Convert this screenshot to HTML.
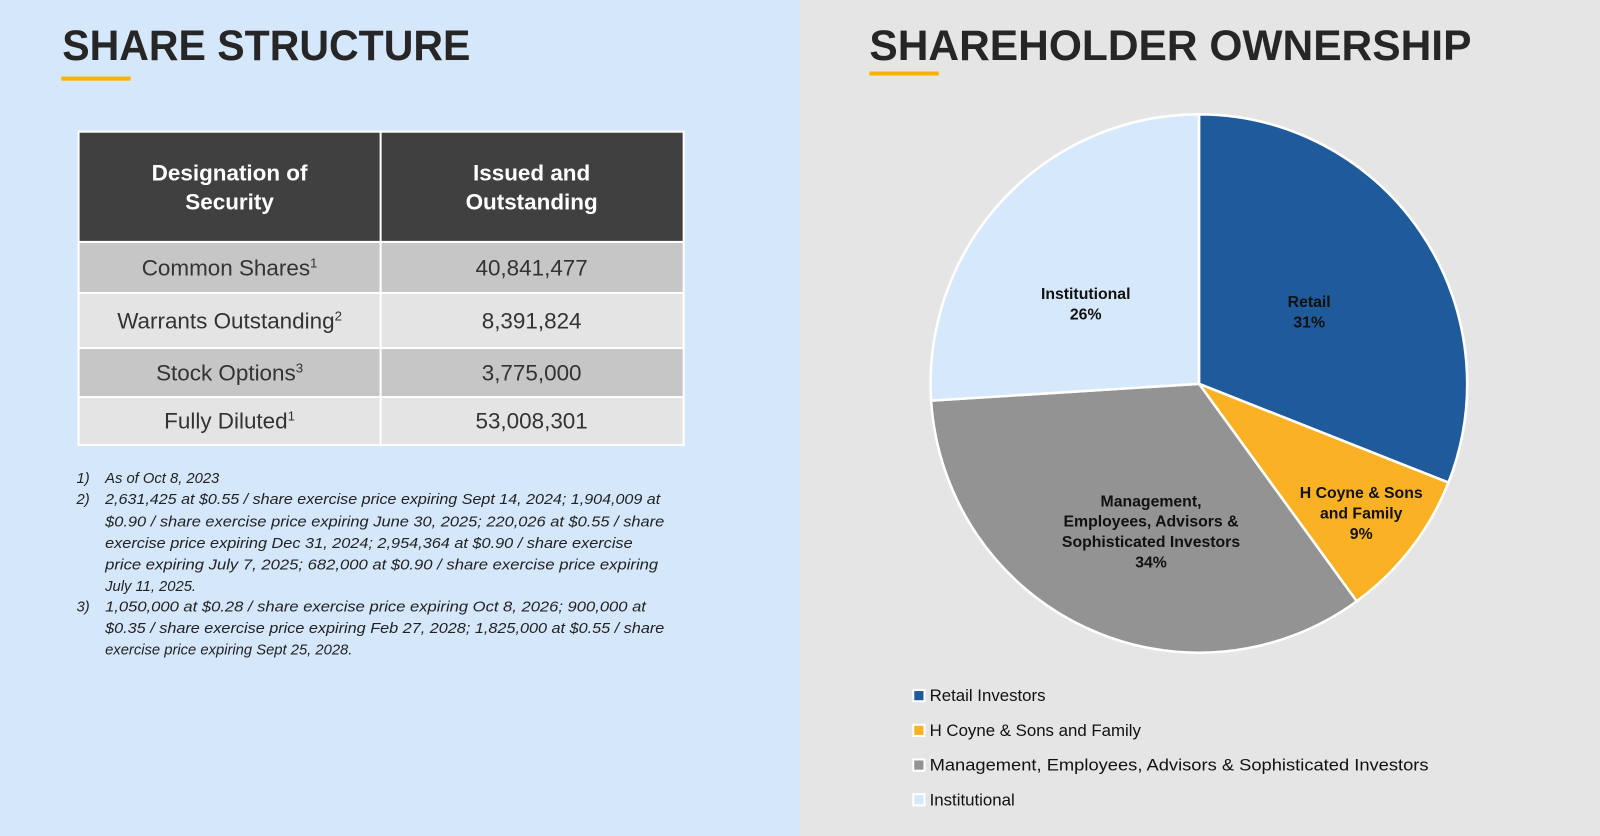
<!DOCTYPE html>
<html><head><meta charset="utf-8"><style>html,body{margin:0;padding:0;width:1600px;height:836px;overflow:hidden}svg{display:block}</style></head>
<body>
<svg width="1600" height="836" viewBox="0 0 1568 819" preserveAspectRatio="none" xmlns="http://www.w3.org/2000/svg" font-family="Liberation Sans, sans-serif">
<rect x="0" y="0" width="784" height="819" fill="#d5e7fb"/>
<rect x="784" y="0" width="784" height="819" fill="#e6e5e5"/>
<text x="61" y="59" font-size="42" font-weight="bold" fill="#262626" textLength="400" lengthAdjust="spacingAndGlyphs">SHARE STRUCTURE</text>
<rect x="60" y="75" width="68" height="4" fill="#f5b400"/>
<text x="852" y="59" font-size="42" font-weight="bold" fill="#262626" textLength="590" lengthAdjust="spacingAndGlyphs">SHAREHOLDER OWNERSHIP</text>
<rect x="852" y="70" width="68" height="4" fill="#f5b400"/>
<!-- table -->
<rect x="76" y="128" width="595" height="309" fill="#ffffff"/>
<rect x="78" y="130" width="294" height="106" fill="#404040"/>
<rect x="374" y="130" width="295" height="106" fill="#404040"/>
<rect x="78" y="238" width="294" height="48" fill="#c6c6c6"/>
<rect x="374" y="238" width="295" height="48" fill="#c6c6c6"/>
<rect x="78" y="288" width="294" height="52" fill="#e4e4e4"/>
<rect x="374" y="288" width="295" height="52" fill="#e4e4e4"/>
<rect x="78" y="342" width="294" height="46" fill="#c6c6c6"/>
<rect x="374" y="342" width="295" height="46" fill="#c6c6c6"/>
<rect x="78" y="390" width="294" height="45" fill="#e4e4e4"/>
<rect x="374" y="390" width="295" height="45" fill="#e4e4e4"/>
<g font-size="22" font-weight="bold" fill="#fff" text-anchor="middle">
<text x="225" y="177">Designation of</text><text x="225" y="205">Security</text>
<text x="521" y="177">Issued and</text><text x="521" y="205">Outstanding</text>
</g>
<g font-size="22" fill="#333" text-anchor="middle">
<text x="225" y="270">Common Shares<tspan font-size="13" dy="-8">1</tspan></text>
<text x="521" y="270">40,841,477</text>
<text x="225" y="322">Warrants Outstanding<tspan font-size="13" dy="-8">2</tspan></text>
<text x="521" y="322">8,391,824</text>
<text x="225" y="373">Stock Options<tspan font-size="13" dy="-8">3</tspan></text>
<text x="521" y="373">3,775,000</text>
<text x="225" y="420">Fully Diluted<tspan font-size="13" dy="-8">1</tspan></text>
<text x="521" y="420">53,008,301</text>
</g>
<g font-size="14.5" font-style="italic" fill="#222">
<text x="75" y="473">1)</text><text x="103" y="473">As of Oct 8, 2023</text>
<text x="75" y="494">2)</text><text x="103" y="494" textLength="544" lengthAdjust="spacingAndGlyphs">2,631,425 at $0.55 / share exercise price expiring Sept 14, 2024; 1,904,009 at</text>
<text x="103" y="516" textLength="548" lengthAdjust="spacingAndGlyphs">$0.90 / share exercise price expiring June 30, 2025; 220,026 at $0.55 / share</text>
<text x="103" y="537" textLength="517" lengthAdjust="spacingAndGlyphs">exercise price expiring Dec 31, 2024; 2,954,364 at $0.90 / share exercise</text>
<text x="103" y="558" textLength="542" lengthAdjust="spacingAndGlyphs">price expiring July 7, 2025; 682,000 at $0.90 / share exercise price expiring</text>
<text x="103" y="579">July 11, 2025.</text>
<text x="75" y="599">3)</text><text x="103" y="599" textLength="530" lengthAdjust="spacingAndGlyphs">1,050,000 at $0.28 / share exercise price expiring Oct 8, 2026; 900,000 at</text>
<text x="103" y="620" textLength="548" lengthAdjust="spacingAndGlyphs">$0.35 / share exercise price expiring Feb 27, 2028; 1,825,000 at $0.55 / share</text>
<text x="103" y="641">exercise price expiring Sept 25, 2028.</text>
</g>
<!-- pie -->
<g stroke="#fff" stroke-width="2.5" stroke-linejoin="round">
<path d="M1175,376 L1175,112 A263,264 0 0 1 1419.5,472.8 Z" fill="#1f5b9b"/>
<path d="M1175,376 L1419.5,472.8 A263,264 0 0 1 1329.6,589 Z" fill="#fbb124"/>
<path d="M1175,376 L1329.6,589 A263,264 0 0 1 912.5,392.5 Z" fill="#939393"/>
<path d="M1175,376 L912.5,392.5 A263,264 0 0 1 1175,112 Z" fill="#d6e8fb"/>
</g>
<g font-size="15.5" font-weight="bold" fill="#111" text-anchor="middle">
<text x="1064" y="293">Institutional</text><text x="1064" y="313">26%</text>
<text x="1283" y="301">Retail</text><text x="1283" y="321">31%</text>
<text x="1334" y="488">H Coyne &amp; Sons</text><text x="1334" y="508">and Family</text><text x="1334" y="528">9%</text>
<text x="1128" y="496">Management,</text><text x="1128" y="516">Employees, Advisors &amp;</text><text x="1128" y="536">Sophisticated Investors</text><text x="1128" y="556">34%</text>
</g>
<g font-size="16.5" fill="#111">
<rect x="894" y="675" width="13" height="13" fill="#fff"/><rect x="896" y="677" width="9" height="9" fill="#1f5b9b"/>
<text x="911" y="687">Retail Investors</text>
<rect x="894" y="709" width="13" height="13" fill="#fff"/><rect x="896" y="711" width="9" height="9" fill="#fbb124"/>
<text x="911" y="721">H Coyne &amp; Sons and Family</text>
<rect x="894" y="743" width="13" height="13" fill="#fff"/><rect x="896" y="745" width="9" height="9" fill="#939393"/>
<text x="911" y="755" textLength="489" lengthAdjust="spacingAndGlyphs">Management, Employees, Advisors &amp; Sophisticated Investors</text>
<rect x="894" y="777" width="13" height="13" fill="#fff"/><rect x="896" y="779" width="9" height="9" fill="#d6e8fb"/>
<text x="911" y="789">Institutional</text>
</g>
</svg>
</body></html>
